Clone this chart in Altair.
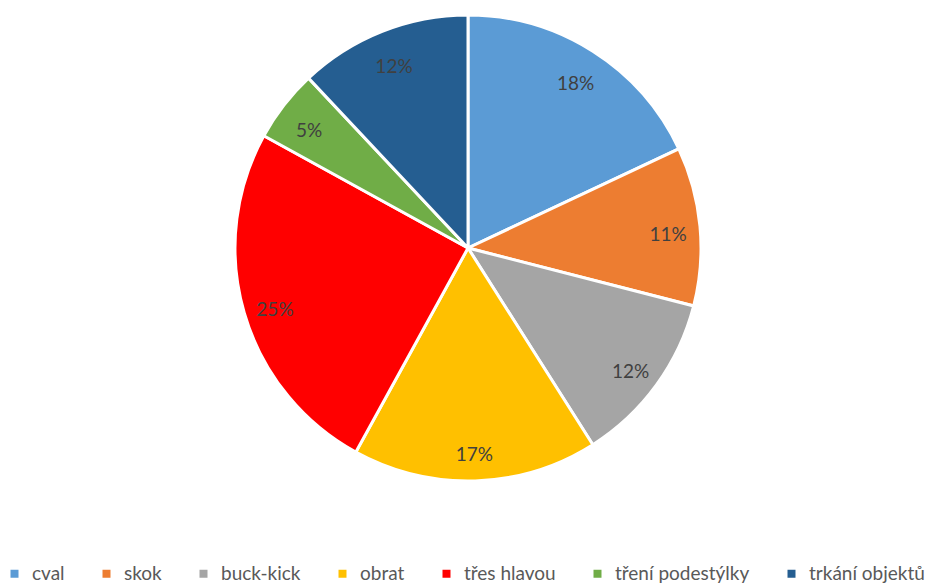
import altair as alt
import pandas as pd

categories = ["cval", "skok", "buck-kick", "obrat", "třes hlavou", "tření podestýlky", "trkání objektů"]
values = [18, 11, 12, 17, 25, 5, 12]
labels = ["18%", "11%", "12%", "17%", "25%", "5%", "12%"]
colors = ["#5B9BD5", "#ED7D31", "#A5A5A5", "#FFC000", "#FF0000", "#70AD47", "#255E91"]

df = pd.DataFrame({
    "category": categories,
    "value": values,
    "label": labels,
    "order": list(range(len(categories))),
})

FONT = "Lato"

base = alt.Chart(df).encode(
    theta=alt.Theta("value:Q", stack=True),
    order=alt.Order("order:Q", sort="ascending"),
    x=alt.value(460),
    y=alt.value(240),
)

arcs = base.mark_arc(outerRadius=233, stroke="white", strokeWidth=3).encode(
    color=alt.Color(
        "category:N",
        scale=alt.Scale(domain=categories, range=colors),
        sort=categories,
        legend=alt.Legend(
            title=None,
            orient="none",
            legendX=-3,
            legendY=556,
            direction="horizontal",
            columns=7,
            symbolType="square",
            symbolSize=64,
            symbolStrokeWidth=0,
            labelFontSize=19,
            labelFont=FONT,
            labelColor="#595959",
            labelOffset=8,
            columnPadding=32,
            labelLimit=400,
        ),
    )
)

texts = base.mark_text(radius=201, dy=6, fontSize=19, font=FONT, color="#404040").encode(
    text="label:N"
)

chart = (
    alt.layer(arcs, texts)
    .properties(width=923, height=576, autosize=alt.AutoSizeParams(type="none"), padding=0)
    .configure_view(stroke=None)
)

chart.save("out.html", embed_options={"renderer": "svg", "actions": False})
